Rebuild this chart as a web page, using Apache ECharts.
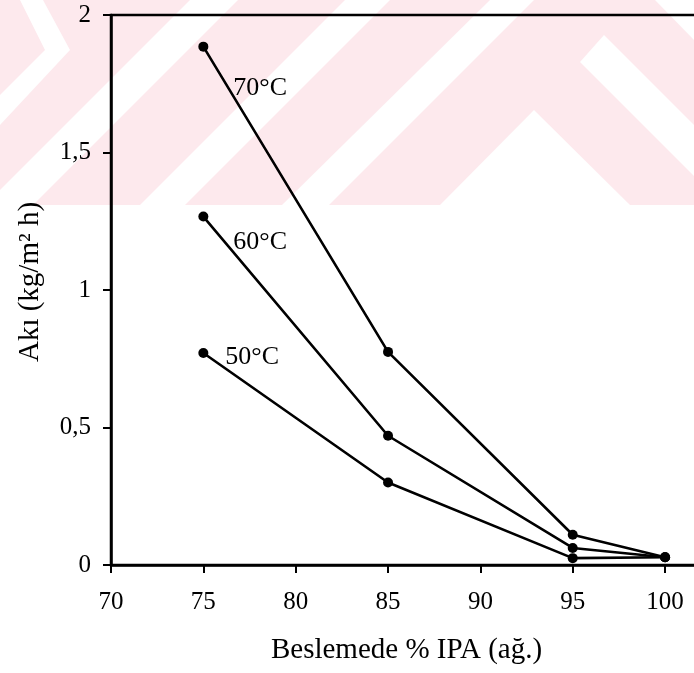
<!DOCTYPE html>
<html>
<head>
<meta charset="utf-8">
<script src="https://cdn.jsdelivr.net/npm/echarts@6/dist/echarts.min.js"></script>
<style>
html,body{margin:0;padding:0;background:#fff;}
#chart{width:694px;height:673px;}
</style>
</head>
<body>
<div id="chart"></div>
<script>
// ---- data ----
const feedIPA = [75, 85, 95, 100];            // Beslemede % IPA (ağ.)
const flux70 = [1.885, 0.775, 0.110, 0.028];  // 70°C
const flux60 = [1.267, 0.470, 0.062, 0.028];  // 60°C
const flux50 = [0.771, 0.300, 0.025, 0.028];  // 50°C
const seriesLabels = ['70°C', '60°C', '50°C'];
const xTickValues = [70, 75, 80, 85, 90, 95, 100];
const yTickLabels = ['0', '0,5', '1', '1,5', '2'];
const xTitle = 'Beslemede % IPA (ağ.)';
const yTitle = 'Akı (kg/m² h)';

// decorative background watermark (pixel polygons, not data)
const wmPink = '#fde9ed';
const wmWhite = [
  [[20,0],[43,0],[70,50],[0,125],[0,95],[45,50]],
  [[0,190],[0,205],[33,205],[238,0],[190,0]],
  [[140,205],[185,205],[390,0],[345,0]],
  [[282,205],[329,205],[534,0],[490,0]],
  [[534,110],[630,205],[440,205]],
  [[604,35],[694,125],[694,176],[580,62]],
  [[655,0],[694,0],[694,40]]
];

const FONT = '"Liberation Serif", "Times New Roman", serif';
const labelOffsets = [[20, 42], [20, 26], [12, 4]];

function buildData(ys, k) {
  return feedIPA.map((x, i) => {
    if (i === 0) {
      return {
        value: [x, ys[i]],
        label: {
          show: true, position: 'right', offset: labelOffsets[k],
          formatter: seriesLabels[k],
          color: '#000', fontFamily: FONT, fontSize: 26
        }
      };
    }
    return [x, ys[i]];
  });
}

const chart = echarts.init(document.getElementById('chart'), null, {renderer: 'canvas'});

const graphicEls = [{
  type: 'rect', z: -100, silent: true,
  shape: {x: 0, y: 0, width: 694, height: 205},
  style: {fill: wmPink}
}].concat(wmWhite.map(p => ({
  type: 'polygon', z: -99, silent: true,
  shape: {points: p},
  style: {fill: '#ffffff'}
})));

const lineSeries = [flux70, flux60, flux50].map((ys, k) => ({
  type: 'line',
  name: seriesLabels[k],
  data: buildData(ys, k),
  symbol: 'circle',
  symbolSize: 10,
  showAllSymbol: true,
  itemStyle: {color: '#000'},
  lineStyle: {color: '#000', width: 2.6},
  z: 5,
  animation: false
}));

chart.setOption({
  animation: false,
  backgroundColor: '#fff',
  graphic: {elements: graphicEls},
  grid: {
    left: 111, top: 15, width: 591, height: 550,
    show: true, borderColor: '#000', borderWidth: 2.5,
    backgroundColor: 'transparent',
    containLabel: false, outerBoundsMode: 'none'
  },
  xAxis: {
    type: 'value', min: 70, max: 102, interval: 5,
    name: xTitle, nameLocation: 'middle', nameGap: 71,
    nameTextStyle: {color: '#000', fontFamily: FONT, fontSize: 29},
    axisLine: {show: true, onZero: false, lineStyle: {color: '#000', width: 2.5}},
    axisTick: {show: true, inside: false, length: 8, lineStyle: {color: '#000', width: 2}},
    axisLabel: {
      color: '#000', fontFamily: FONT, fontSize: 25, margin: 25,
      showMaxLabel: false,
      formatter: v => (xTickValues.indexOf(v) >= 0 ? String(v) : '')
    },
    splitLine: {show: false}
  },
  yAxis: {
    type: 'value', min: 0, max: 2, interval: 0.5,
    name: yTitle, nameLocation: 'middle', nameGap: 66,
    nameTextStyle: {color: '#000', fontFamily: FONT, fontSize: 29, padding: [0, 0, 0, 16]},
    axisLine: {show: true, lineStyle: {color: '#000', width: 2.5}},
    axisTick: {show: true, inside: false, length: 8, lineStyle: {color: '#000', width: 2}},
    axisLabel: {
      color: '#000', fontFamily: FONT, fontSize: 25, margin: 20,
      formatter: v => yTickLabels[Math.round(v / 0.5)]
    },
    splitLine: {show: false}
  },
  series: lineSeries
});
</script>
</body>
</html>
